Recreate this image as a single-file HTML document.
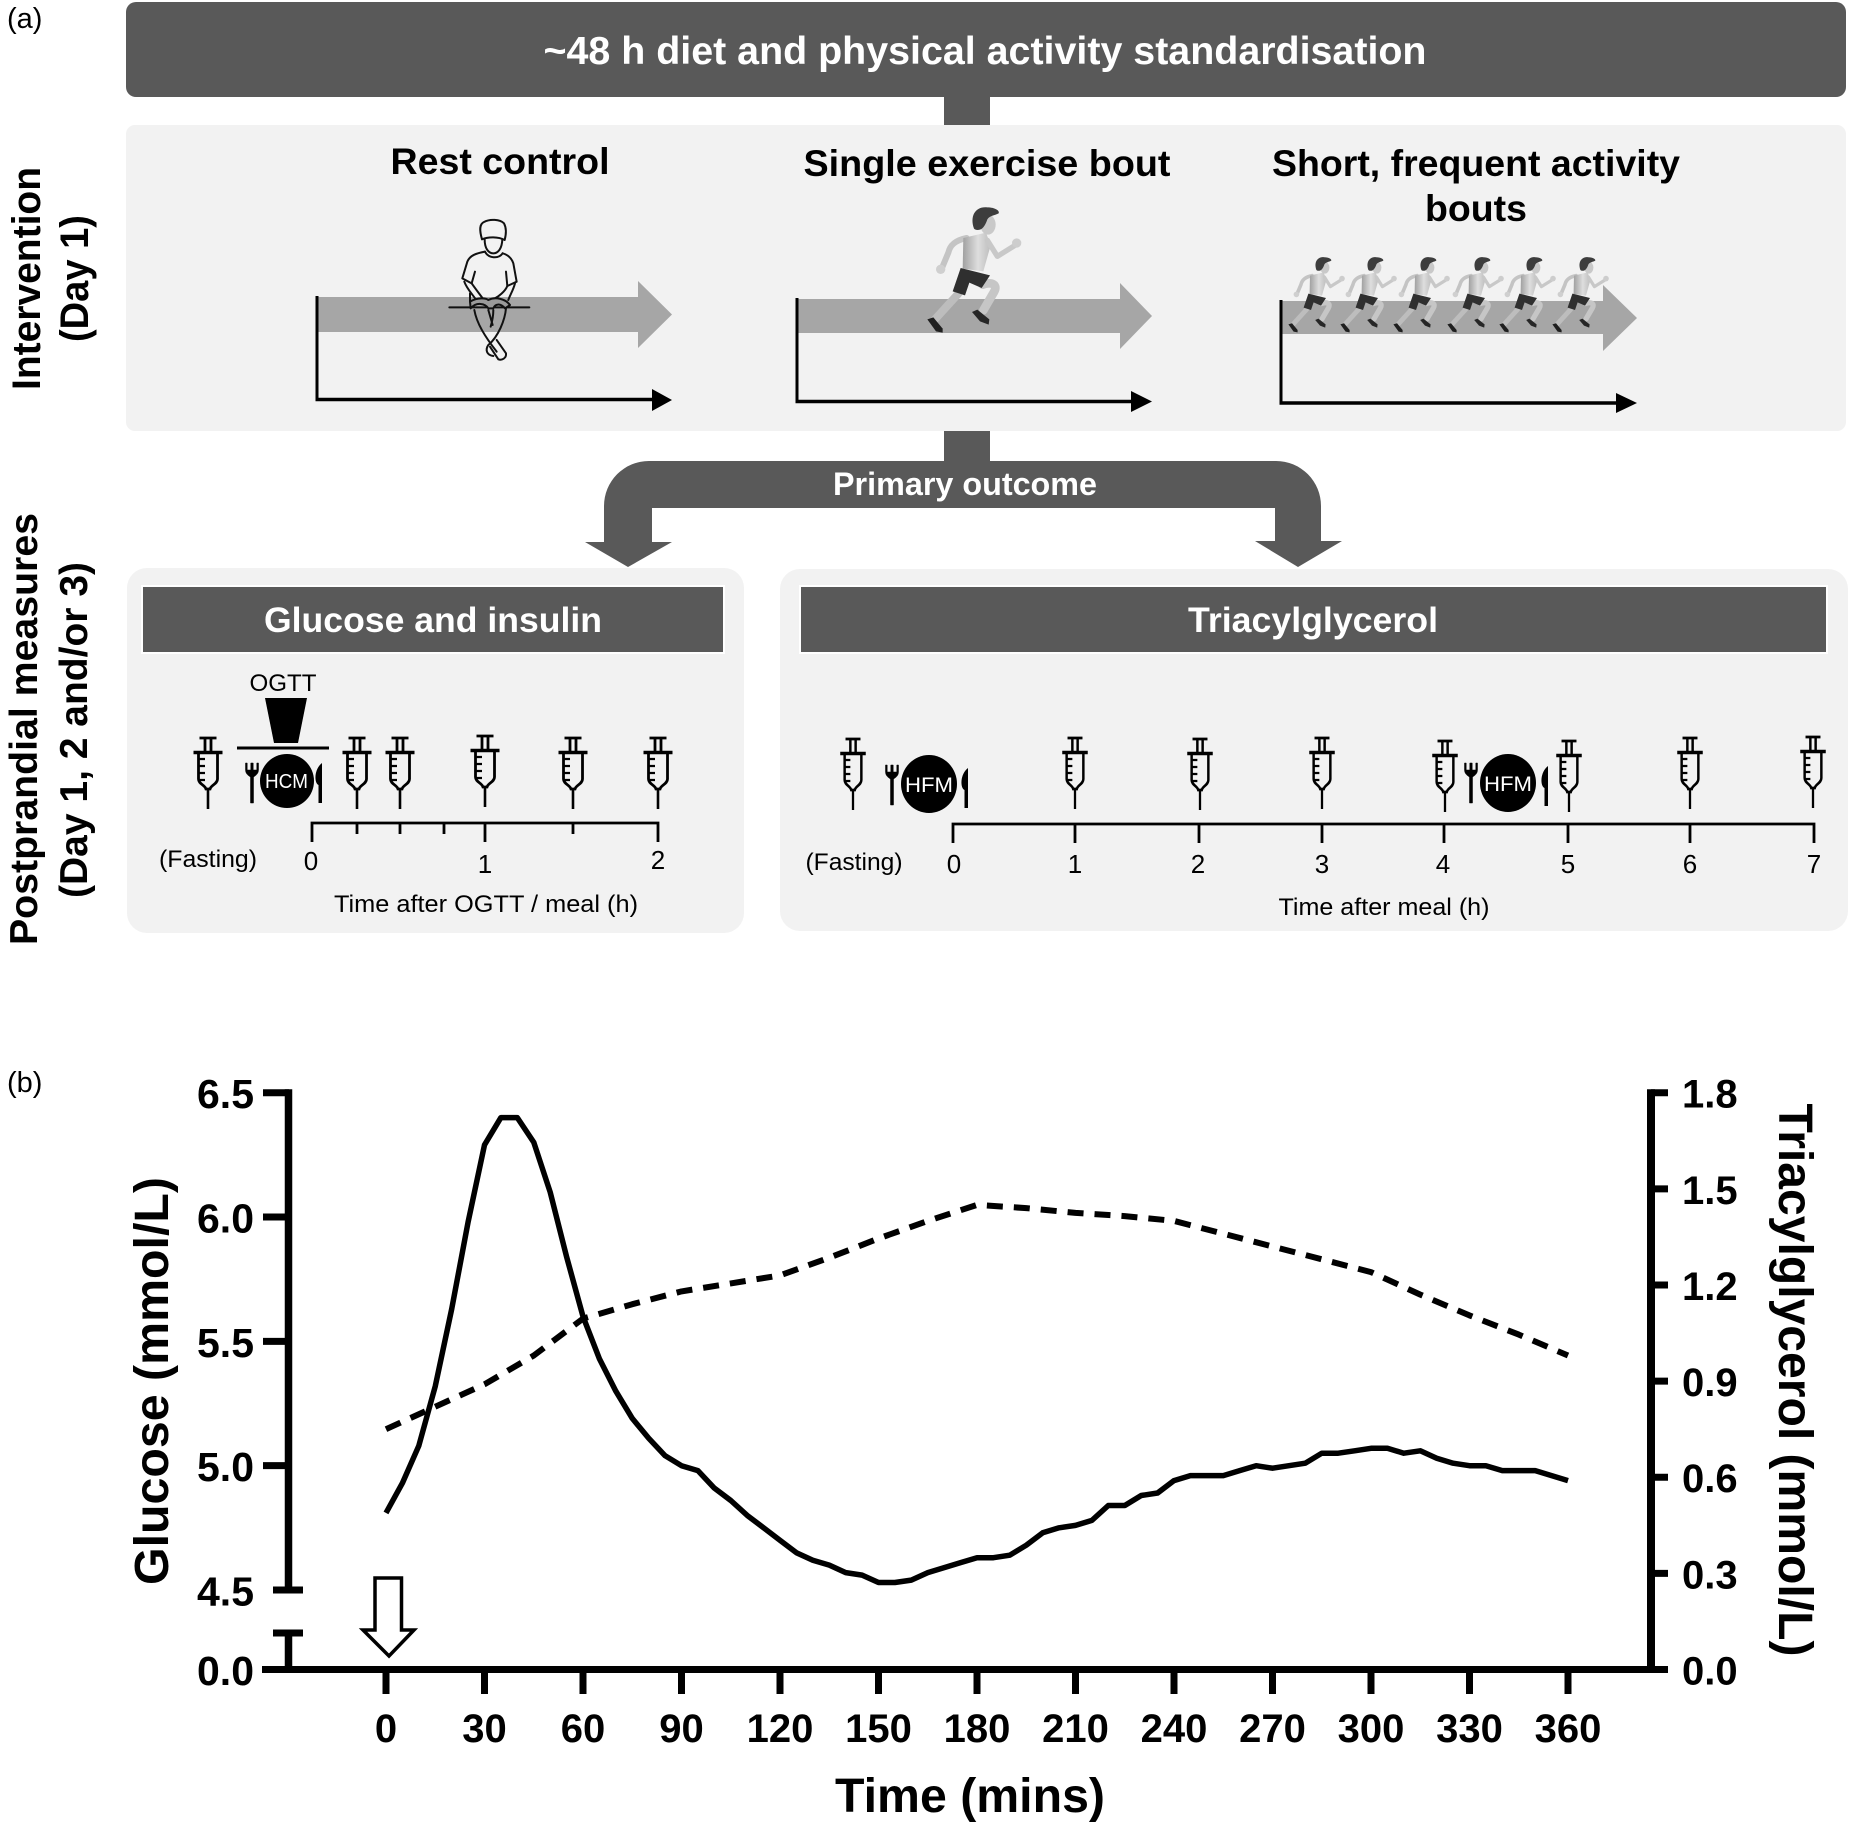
<!DOCTYPE html>
<html lang="en">
<head>
<meta charset="utf-8">
<title>Study design and postprandial response figure</title>
<style>
html,body{margin:0;padding:0;background:#fff;width:1850px;height:1824px;overflow:hidden}
svg{display:block}
text{font-family:"Liberation Sans",Arial,sans-serif;fill:#000}
.b{font-weight:bold}
.w{fill:#fff;font-weight:bold}
.m{text-anchor:middle}
</style>
</head>
<body>
<svg id="figure" xmlns="http://www.w3.org/2000/svg" width="1850" height="1824" viewBox="0 0 1850 1824">
<defs>
  <g id="syringe" fill="none" stroke="#000" stroke-width="2.8">
    <path d="M-8.5,0H8.5M-3,0V14M3,0V14"/>
    <path d="M-14.5,14.5H14.5" stroke-width="3.6"/>
    <path d="M-9.5,15V41C-9.5,46-3,47-2,51H2C3,47 9.5,46 9.5,41V15"/>
    <path d="M0,51V71" stroke-width="2.6"/>
    <path d="M-9,21H-3M-9,28H-3M-9,35H-3M-9,42H-3" stroke-width="2.2"/>
  </g>
  <g id="fork" fill="#000" stroke="#000">
    <path d="M-6.5,0V7C-6.5,11-3,13-1.5,14V40H1.5V14C3,13 6.5,11 6.5,7V0H4.8V7H1.2V0H-1.2V7H-4.8V0Z" stroke-width=".5"/>
  </g>
  <g id="knife" fill="#000">
    <path d="M-1.5,40V22C-6,20-6,6 2,0V40Z"/>
  </g>
  <linearGradient id="skin" x1="0" y1="0" x2="1" y2="0">
    <stop offset="0" stop-color="#a0a0a0"/>
    <stop offset=".55" stop-color="#dedede"/>
    <stop offset="1" stop-color="#bdbdbd"/>
  </linearGradient>
  <g id="runner">
    <g transform="scale(.3333) translate(-255,-65)">
      <path d="M175,295 L105,372" stroke="#bdbdbd" stroke-width="24" fill="none" stroke-linecap="round"/>
      <path d="M248,268 C275,258 295,268 282,290 L250,345" stroke="#c6c6c6" stroke-width="26" fill="none" stroke-linecap="round"/>
      <path d="M200,128 C165,135 150,150 145,172 L125,220" stroke="#c4c4c4" stroke-width="18" fill="none" stroke-linecap="round"/>
      <circle cx="122" cy="222" r="14" fill="#cfcfcf"/>
      <path d="M190,128 L258,112 L272,150 L250,228 L188,220Z" fill="url(#skin)"/>
      <path d="M262,135 L292,183 L345,150" stroke="#c8c8c8" stroke-width="16" fill="none" stroke-linecap="round" stroke-linejoin="round"/>
      <circle cx="350" cy="143" r="14" fill="#cdcdcd"/>
      <path d="M182,218 L270,240 L245,278 L208,262 L195,300 L158,288Z" fill="#2f2f2f"/>
      <path d="M82,372 L100,366 L128,400 L128,412 L108,408Z" fill="#1f1f1f"/>
      <path d="M216,350 L232,343 L268,372 L266,388 L240,378Z" fill="#262626"/>
      <ellipse cx="264" cy="88" rx="23" ry="30" fill="#c9c9c9"/>
      <path d="M222,100C208,60 228,32 262,36C285,36 300,46 296,54C285,60 270,60 262,72C258,85 250,100 240,103C232,105 226,104 222,100Z" fill="#3d3d3d"/>
    </g>
  </g>
</defs>

<text x="7" y="28" font-size="29">(a)</text>

<rect x="126" y="2" width="1720" height="95" rx="10" fill="#595959"/>
<text class="w m" x="985" y="64" font-size="38.5" textLength="883" lengthAdjust="spacingAndGlyphs">~48 h diet and physical activity standardisation</text>
<rect x="944" y="97" width="46" height="28" fill="#595959"/>

<rect x="126" y="125" width="1720" height="306" rx="9" fill="#f2f2f2"/>
<text class="b m" transform="translate(40,278.5) rotate(-90)" font-size="40" textLength="223" lengthAdjust="spacingAndGlyphs">Intervention</text>
<text class="b m" transform="translate(88,278.5) rotate(-90)" font-size="40" textLength="127" lengthAdjust="spacingAndGlyphs">(Day 1)</text>

<text class="b m" x="500" y="174" font-size="37" textLength="219" lengthAdjust="spacingAndGlyphs">Rest control</text>
<text class="b m" x="987" y="176" font-size="37" textLength="367" lengthAdjust="spacingAndGlyphs">Single exercise bout</text>
<text class="b m" x="1476" y="176" font-size="37" textLength="408" lengthAdjust="spacingAndGlyphs">Short, frequent activity</text>
<text class="b m" x="1476" y="221" font-size="37" textLength="102" lengthAdjust="spacingAndGlyphs">bouts</text>

<!-- rest control schematic -->
<g>
  <path d="M317,297H638V281L672,314.5L638,348V332H317Z" fill="#a6a6a6"/>
  <path d="M317,296V400" stroke="#000" stroke-width="3"/>
  <path d="M315.5,399.5H655" stroke="#000" stroke-width="3.5"/>
  <path d="M652,389L672,400L652,411Z" fill="#000"/>
  <g transform="translate(420,200) scale(.3333)" fill="none" stroke="#111" stroke-width="6" stroke-linejoin="round" stroke-linecap="round">
    <path d="M88,322H328" stroke-width="6"/>
    <path d="M186,118C178,90 178,72 192,66C210,56 240,58 252,70C260,85 258,105 254,120C235,110 205,110 186,118Z" fill="#f2f2f2"/>
    <path d="M194,118C194,145 205,160 220,160C235,160 246,145 247,118"/>
    <path d="M195,155C205,175 235,178 248,160"/>
    <path d="M195,155C170,160 150,165 142,185L127,235L155,250L165,215M248,160C265,165 275,175 280,190L290,245L262,258L258,215"/>
    <path d="M133,245C140,265 155,280 165,295M150,280V305M155,250C165,265 185,290 190,298M262,258C255,275 235,290 225,295M285,250C280,270 270,285 265,300"/>
    <path d="M150,305C175,290 200,295 205,300C225,290 255,295 270,315L255,325C240,308 225,312 220,325L205,325C195,310 170,305 152,325Z" fill="#9a9a9a"/>
    <path d="M163,330C170,370 195,410 230,455M205,330L218,375M220,330C220,350 215,370 212,380M258,325C255,360 235,410 205,435C195,450 200,465 220,468M230,420L258,460C260,475 245,482 235,478L210,440"/>
  </g>
</g>

<!-- single bout schematic -->
<g>
  <path d="M797,299H1120V283L1152,316L1120,349V333H797Z" fill="#a6a6a6"/>
  <path d="M797,298V402" stroke="#000" stroke-width="3"/>
  <path d="M795.5,401.5H1134" stroke="#000" stroke-width="3.5"/>
  <path d="M1131,391L1152,401.5L1131,412Z" fill="#000"/>
  <use href="#runner" transform="translate(985,217)"/>
</g>

<!-- frequent bouts schematic -->
<g>
  <path d="M1281,301H1603V285L1637,318L1603,351V334H1281Z" fill="#a6a6a6"/>
  <path d="M1281,300V403" stroke="#000" stroke-width="3"/>
  <path d="M1279.5,403H1619" stroke="#000" stroke-width="3.5"/>
  <path d="M1616,393L1637,403L1616,413Z" fill="#000"/>
  <use href="#runner" transform="translate(1323,263) scale(.6)"/>
  <use href="#runner" transform="translate(1375,263) scale(.6)"/>
  <use href="#runner" transform="translate(1428,263) scale(.6)"/>
  <use href="#runner" transform="translate(1482,263) scale(.6)"/>
  <use href="#runner" transform="translate(1534,263) scale(.6)"/>
  <use href="#runner" transform="translate(1587,263) scale(.6)"/>
</g>

<rect x="944" y="431" width="46" height="31" fill="#595959"/>
<path d="M652,542H672L628,567L585,542H604V506A45,45 0 0 1 649,461H1276A45,45 0 0 1 1321,506V541H1342L1298,567L1255,541H1275V508H652Z" fill="#595959"/>
<text class="w m" x="965" y="495" font-size="32" textLength="264" lengthAdjust="spacingAndGlyphs">Primary outcome</text>

<text class="b m" transform="translate(37,729) rotate(-90)" font-size="39" textLength="432" lengthAdjust="spacingAndGlyphs">Postprandial measures</text>
<text class="b m" transform="translate(87,730) rotate(-90)" font-size="39" textLength="336" lengthAdjust="spacingAndGlyphs">(Day 1, 2 and/or 3)</text>

<!-- glucose panel -->
<g>
  <rect x="127" y="568" width="617" height="365" rx="20" fill="#f2f2f2"/>
  <rect x="142" y="586" width="582" height="67" fill="#595959" stroke="#fff" stroke-width="2"/>
  <text class="w m" x="433" y="632" font-size="35" textLength="338" lengthAdjust="spacingAndGlyphs">Glucose and insulin</text>
  <text class="m" x="283" y="691" font-size="24" textLength="67" lengthAdjust="spacingAndGlyphs">OGTT</text>
  <path d="M265,698H307L298,743H274Z" fill="#000"/>
  <path d="M237,748H329" stroke="#000" stroke-width="3"/>
  <use href="#fork" transform="translate(252,763)"/>
  <circle cx="287" cy="781" r="27" fill="#000"/>
  <text class="m" x="286.5" y="788" font-size="20" style="fill:#fff" textLength="43" lengthAdjust="spacingAndGlyphs">HCM</text>
  <use href="#knife" transform="translate(320,763)"/>
  <use href="#syringe" transform="translate(208,738)"/>
  <use href="#syringe" transform="translate(357,738)"/>
  <use href="#syringe" transform="translate(400,738)"/>
  <use href="#syringe" transform="translate(485,736)"/>
  <use href="#syringe" transform="translate(573,738)"/>
  <use href="#syringe" transform="translate(658,738)"/>
  <path d="M312,842V823H658V842M485,823V842M357,823V834M400,823V834M444,823V834M573,823V834" fill="none" stroke="#000" stroke-width="2.8"/>
  <text class="m" x="208" y="867" font-size="24" textLength="98" lengthAdjust="spacingAndGlyphs">(Fasting)</text>
  <text class="m" x="311" y="870" font-size="26">0</text>
  <text class="m" x="485" y="873" font-size="26">1</text>
  <text class="m" x="658" y="869" font-size="26">2</text>
  <text class="m" x="486" y="912" font-size="24" textLength="304" lengthAdjust="spacingAndGlyphs">Time after OGTT / meal (h)</text>
</g>

<!-- triacylglycerol panel -->
<g>
  <rect x="780" y="569" width="1068" height="362" rx="20" fill="#f2f2f2"/>
  <rect x="800" y="586" width="1027" height="67" fill="#595959" stroke="#fff" stroke-width="2"/>
  <text class="w m" x="1313" y="632" font-size="35" textLength="250" lengthAdjust="spacingAndGlyphs">Triacylglycerol</text>
  <use href="#syringe" transform="translate(853,739) scale(.88,1)"/>
  <use href="#syringe" transform="translate(1075,738) scale(.88,1)"/>
  <use href="#syringe" transform="translate(1200,739) scale(.88,1)"/>
  <use href="#syringe" transform="translate(1322,738) scale(.88,1)"/>
  <use href="#syringe" transform="translate(1445,741) scale(.88,1)"/>
  <use href="#syringe" transform="translate(1569,741) scale(.88,1)"/>
  <use href="#syringe" transform="translate(1690,738) scale(.88,1)"/>
  <use href="#syringe" transform="translate(1813,737) scale(.88,1)"/>
  <use href="#fork" transform="translate(892,765)"/>
  <ellipse cx="929" cy="784" rx="28" ry="29" fill="#000"/>
  <text class="m" x="929" y="792" font-size="21" style="fill:#fff" textLength="48" lengthAdjust="spacingAndGlyphs">HFM</text>
  <use href="#knife" transform="translate(966,768)"/>
  <use href="#fork" transform="translate(1471,763)"/>
  <ellipse cx="1508" cy="783" rx="28" ry="29" fill="#000"/>
  <text class="m" x="1508" y="791" font-size="21" style="fill:#fff" textLength="48" lengthAdjust="spacingAndGlyphs">HFM</text>
  <use href="#knife" transform="translate(1546,766)"/>
  <path d="M953,843V824H1814V843M1075,824V843M1199,824V843M1322,824V843M1444,824V843M1568,824V843M1690,824V843" fill="none" stroke="#000" stroke-width="2.8"/>
  <text class="m" x="854" y="870" font-size="24" textLength="97" lengthAdjust="spacingAndGlyphs">(Fasting)</text>
  <text class="m" x="954" y="873" font-size="26">0</text>
  <text class="m" x="1075" y="873" font-size="26">1</text>
  <text class="m" x="1198" y="873" font-size="26">2</text>
  <text class="m" x="1322" y="873" font-size="26">3</text>
  <text class="m" x="1443" y="873" font-size="26">4</text>
  <text class="m" x="1568" y="873" font-size="26">5</text>
  <text class="m" x="1690" y="873" font-size="26">6</text>
  <text class="m" x="1814" y="873" font-size="26">7</text>
  <text class="m" x="1384" y="915" font-size="24" textLength="211" lengthAdjust="spacingAndGlyphs">Time after meal (h)</text>
</g>

<text x="7" y="1092" font-size="29">(b)</text>

<g id="chart"></g>

<path d="M375,1578H401.5V1630H414L389,1656L363,1630H375Z" fill="#fff" stroke="#000" stroke-width="3.5"/>

<text class="b m" transform="translate(168,1381) rotate(-90)" font-size="48" textLength="408" lengthAdjust="spacingAndGlyphs">Glucose (mmol/L)</text>
<text class="b m" transform="translate(1779,1380) rotate(90)" font-size="48" textLength="553" lengthAdjust="spacingAndGlyphs">Triacylglycerol (mmol/L)</text>
<text class="b m" x="970" y="1812" font-size="48" textLength="270" lengthAdjust="spacingAndGlyphs">Time (mins)</text>
</svg>

<script>
const glucoseTimes = [0,5,10,15,20,25,30,35,40,45,50,55,60,65,70,75,80,85,90,95,100,105,110,115,120,125,130,135,140,145,150,155,160,165,170,175,180,185,190,195,200,205,210,215,220,225,230,235,240,245,250,255,260,265,270,275,280,285,290,295,300,305,310,315,320,325,330,335,340,345,350,355,360];
const glucoseValues = [4.81,4.93,5.08,5.32,5.63,5.98,6.29,6.4,6.4,6.3,6.1,5.84,5.6,5.43,5.3,5.19,5.11,5.04,5.0,4.98,4.91,4.86,4.8,4.75,4.7,4.65,4.62,4.6,4.57,4.56,4.53,4.53,4.54,4.57,4.59,4.61,4.63,4.63,4.64,4.68,4.73,4.75,4.76,4.78,4.84,4.84,4.88,4.89,4.94,4.96,4.96,4.96,4.98,5.0,4.99,5.0,5.01,5.05,5.05,5.06,5.07,5.07,5.05,5.06,5.03,5.01,5.0,5.0,4.98,4.98,4.98,4.96,4.94];
const tagTimes = [0,15,30,45,60,75,90,105,120,135,150,165,180,195,210,225,240,255,270,285,300,315,330,345,360];
const tagValues = [0.75,0.82,0.89,0.98,1.095,1.14,1.18,1.205,1.23,1.285,1.345,1.4,1.45,1.44,1.425,1.415,1.4,1.36,1.32,1.28,1.24,1.17,1.105,1.045,0.98];
const xTickValues = [0,30,60,90,120,150,180,210,240,270,300,330,360];
const glucoseTickValues = [6.5,6.0,5.5,5.0,4.5,0.0];
const glucoseTickLabels = ["6.5","6.0","5.5","5.0","4.5","0.0"];
const tagTickValues = [1.8,1.5,1.2,0.9,0.6,0.3,0.0];
const tagTickLabels = ["1.8","1.5","1.2","0.9","0.6","0.3","0.0"];

const SVG_NS = "http://www.w3.org/2000/svg";
const chart = document.getElementById("chart");

function xScale(t){ return 386 + t * (1568 - 386) / 360; }
function glucoseScale(v){
  if (v < 4.5) return 1669.5 - (v / 4.5) * 36;
  return 1092.7 + (6.5 - v) * (1590 - 1092.7) / 2;
}
function tagScale(v){ return 1669.5 - v * (1669.5 - 1092.7) / 1.8; }

function makeEl(tag, attrs){
  const el = document.createElementNS(SVG_NS, tag);
  for (const k in attrs) el.setAttribute(k, attrs[k]);
  chart.appendChild(el);
  return el;
}
function strokeLine(x1,y1,x2,y2,w){
  return makeEl("line",{x1:x1,y1:y1,x2:x2,y2:y2,stroke:"#000","stroke-width":w});
}
function linePoints(times, values, scale){
  return times.map(function(t,i){ return xScale(t).toFixed(1)+","+scale(values[i]).toFixed(1); }).join(" ");
}

/* axes */
const yZero = glucoseScale(0);
const xAxisLine = strokeLine(262, yZero, 1655, yZero, 7);



const leftUpper = strokeLine(288.5, glucoseScale(6.5)-3.5, 288.5, glucoseScale(4.5), 7.5);



const leftLower = strokeLine(288.5, 1633, 288.5, yZero, 7.5);



const breakCap = strokeLine(273, 1633, 303, 1633, 7);



const rightAxis = strokeLine(1651, tagScale(1.8)-3.5, 1651, tagScale(0)+3.5, 8);



/* x ticks */
xTickValues.forEach(function(t){
  const x = xScale(t);
  const tick = strokeLine(x, yZero, x, 1694, 7);
  
  
  const label = makeEl("text",{x:x,y:1742,"text-anchor":"middle","font-size":40,"font-weight":"bold"});
  label.textContent = String(t);
  
  
});

/* glucose ticks */
glucoseTickValues.forEach(function(v,i){
  const y = glucoseScale(v);
  const isBreak = v === 4.5;
  if (v !== 0) {
    const tick = strokeLine(isBreak ? 273 : 263, y, isBreak ? 303 : 289, y, 7);
    
    
  }
  const label = makeEl("text",{x:197,y:y+15.5,"font-size":41,"font-weight":"bold"});
  label.textContent = glucoseTickLabels[i];
  
  
});

/* triacylglycerol ticks */
tagTickValues.forEach(function(v,i){
  const y = tagScale(v);
  const tick = strokeLine(1651, y, 1668, y, 7);
  
  
  const label = makeEl("text",{x:1682,y:y+15,"font-size":40,"font-weight":"bold"});
  label.textContent = tagTickLabels[i];
  
  
});

/* series */
const tagLine = makeEl("polyline",{points:linePoints(tagTimes,tagValues,tagScale),fill:"none",stroke:"#000","stroke-width":6,"stroke-dasharray":"16 11","stroke-linejoin":"round"});



const glucoseLine = makeEl("polyline",{points:linePoints(glucoseTimes,glucoseValues,glucoseScale),fill:"none",stroke:"#000","stroke-width":5.5,"stroke-linejoin":"round"});


</script>
</body>
</html>
